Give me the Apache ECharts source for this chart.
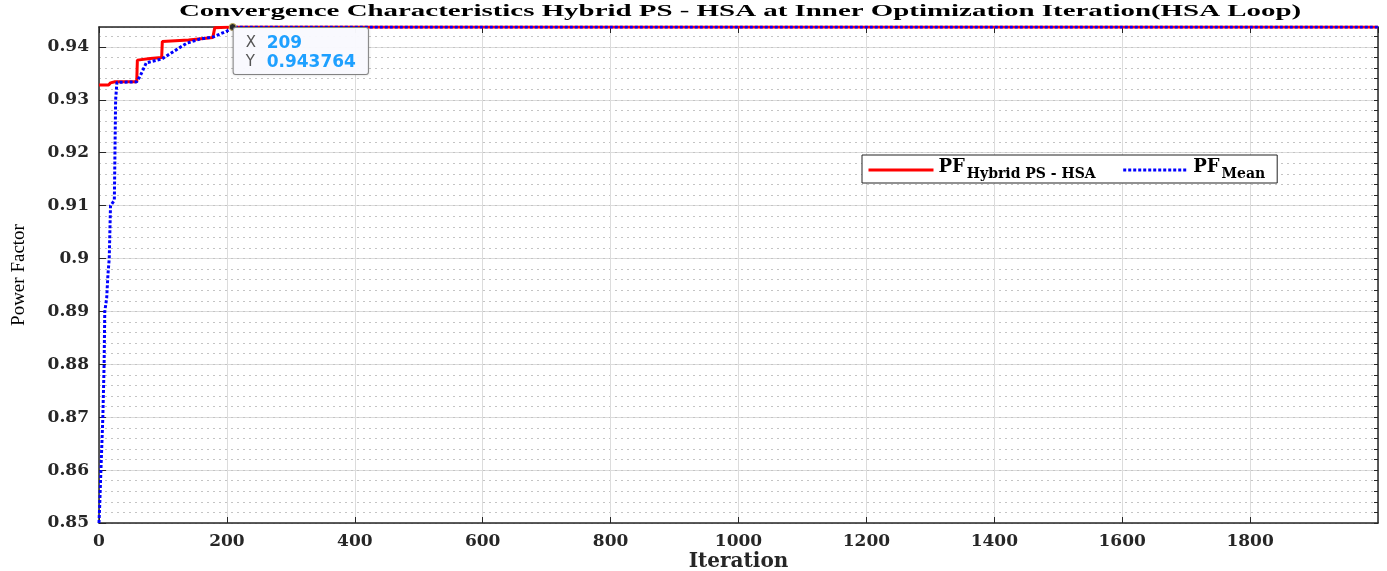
<!DOCTYPE html>
<html><head><meta charset="utf-8">
<script src="https://cdn.jsdelivr.net/npm/echarts@6/dist/echarts.min.js"></script>
<style>html,body{margin:0;padding:0;background:#fff}#c{width:1387px;height:571px}</style>
</head><body><div id="c"></div>
<script>
const titleText = 'Convergence Characteristics Hybrid PS - HSA at Inner Optimization Iteration(HSA Loop)';
const xAxisName = 'Iteration';
const yAxisName = 'Power Factor';
const seriesNames = ['PF Hybrid PS - HSA', 'PF Mean'];
const legendMain = ['PF', 'PF'];
const legendSub = ['Hybrid PS - HSA', 'Mean'];
const bestIter = [0, 15, 18, 25, 59, 60, 80, 98, 99, 140, 178, 181, 209, 2000];
const bestPF = [0.9328, 0.9328, 0.9332, 0.9334, 0.9334, 0.9375, 0.9378, 0.9380, 0.9410, 0.9413, 0.9418, 0.9436, 0.943764, 0.943764];
const meanIter = [0, 1, 3, 6, 8, 9, 12, 14, 16, 18, 24, 26, 28, 59, 64, 74, 98, 111, 137, 158, 179, 200, 212, 2000];
const meanPF = [0.85, 0.853, 0.86, 0.87, 0.88, 0.89, 0.8925, 0.897, 0.90, 0.91, 0.911, 0.93, 0.9333, 0.9334, 0.9344, 0.9370, 0.9377, 0.9387, 0.9407, 0.9415, 0.9419, 0.9430, 0.943764, 0.943764];
const tipIter = 209, tipPF = 0.943764;
const xMin = 0, xMax = 2000, xStep = 200;
const yMin = 0.85, yMax = 0.943764, yStep = 0.01, yMinorStep = 0.002;

const chart = echarts.init(document.getElementById('c'), null, {renderer: 'canvas'});
const serif = 'DejaVu Serif';
const tickFont = {fontFamily: serif, fontWeight: 'bold', fontSize: 17, color: '#262626'};
const grid = {left: 99, right: 9, top: 27, bottom: 48, outerBoundsMode: 'none', containLabel: false};
const pairs = (xs, ys) => xs.map((x, i) => [x, ys[i]]);

chart.setOption({
  animation: false,
  backgroundColor: '#fff',
  grid: grid,
  graphic: [{
    type: 'text', x: 740, y: 12, scaleX: 1.70, z: 10,
    style: {text: titleText, font: 'bold 17px "Liberation Serif"', align: 'center', verticalAlign: 'middle', fill: '#000'}
  }],
  legend: {
    left: 862, top: 155, orient: 'horizontal',
    backgroundColor: '#fff', borderColor: '#222', borderWidth: 1, borderRadius: 0,
    padding: [3, 12, 1, 5], itemWidth: 65, itemHeight: 14, itemGap: 26,
    itemStyle: {opacity: 0},
    lineStyle: {width: 3},
    data: seriesNames,
    formatter: function (name) {
      const i = seriesNames.indexOf(name);
      return '{pf|' + legendMain[i] + '}{sub|' + legendSub[i] + '}';
    },
    textStyle: {
      rich: {
        pf: {fontFamily: serif, fontWeight: 'bold', fontSize: 18, color: '#000', lineHeight: 17, padding: [0, 0, 6, 0]},
        sub: {fontFamily: serif, fontWeight: 'bold', fontSize: 14, color: '#000', lineHeight: 14, padding: [9, 0, 0, 2]}
      }
    }
  },
  xAxis: [{
    type: 'value', min: xMin, max: xMax, interval: xStep, position: 'bottom',
    name: xAxisName, nameLocation: 'middle', nameGap: 29, nameMoveOverlap: false,
    nameTextStyle: {fontFamily: serif, fontWeight: 'bold', fontSize: 20, color: '#262626'},
    axisLine: {show: true, lineStyle: {color: '#262626', width: 1.5}},
    axisTick: {show: true, inside: true, length: 6, lineStyle: {color: '#262626'}},
    axisLabel: Object.assign({showMaxLabel: false, margin: 10, formatter: v => String(v)}, tickFont),
    splitLine: {show: true, lineStyle: {color: '#dcdcdc', width: 1}}
  }, {
    type: 'value', min: xMin, max: xMax, interval: xStep, position: 'top',
    axisLine: {show: true, onZero: false, lineStyle: {color: '#262626', width: 1.5}},
    axisTick: {show: true, inside: true, length: 6, lineStyle: {color: '#262626'}},
    axisLabel: {show: false}, splitLine: {show: false}
  }],
  yAxis: [{
    type: 'value', min: yMin, max: yMax, interval: yStep, position: 'left',
    name: yAxisName, nameLocation: 'middle', nameGap: 70,
    nameTextStyle: {fontFamily: 'Liberation Serif', fontWeight: 'normal', fontSize: 19, color: '#000'},
    axisLine: {show: true, onZero: false, lineStyle: {color: '#262626', width: 1.5}},
    axisTick: {show: true, inside: true, length: 7, lineStyle: {color: '#262626'}},
    axisLabel: Object.assign({showMaxLabel: false, margin: 10, formatter: v => +v.toFixed(2) + ''}, tickFont),
    splitLine: {show: true, lineStyle: {color: '#dcdcdc', width: 1}}
  }, {
    type: 'value', min: yMin, max: yMax, interval: yMinorStep, position: 'right',
    axisLine: {show: true, onZero: false, lineStyle: {color: '#262626', width: 1.5}},
    axisTick: {show: true, inside: true, length: 4, lineStyle: {color: '#262626'}},
    axisLabel: {show: false},
    splitLine: {show: true, lineStyle: {color: '#c4c4c4', width: 1, type: [2, 4]}}
  }],
  series: [{
    name: seriesNames[0], type: 'line', xAxisIndex: 0, yAxisIndex: 0,
    data: pairs(bestIter, bestPF), symbol: 'none', showSymbol: false,
    lineStyle: {color: '#ff0000', width: 3}, itemStyle: {color: '#ff0000'}, z: 3,
    markPoint: {
      symbol: 'circle', symbolSize: 7, z: 20,
      itemStyle: {color: '#2b2b2b', borderColor: '#c9b45a', borderWidth: 1},
      data: [{coord: [tipIter, tipPF], value: tipPF}],
      label: {
        show: true, position: [5, 5],
        formatter: () => '{k|X}{v|' + tipIter + '}\n{k|Y}{v|' + tipPF + '}',
        backgroundColor: 'rgba(250,250,255,0.97)', borderColor: '#8a8a8a', borderWidth: 1, borderRadius: 2,
        padding: [6, 12, 2, 12],
        shadowColor: 'rgba(0,0,0,0.15)', shadowBlur: 3,
        rich: {
          k: {fontFamily: 'DejaVu Sans', fontSize: 15, color: '#555', lineHeight: 19, width: 21},
          v: {fontFamily: 'DejaVu Sans', fontWeight: 'bold', fontSize: 17, color: '#1ea0ff', lineHeight: 19}
        }
      }
    }
  }, {
    name: seriesNames[1], type: 'line', xAxisIndex: 0, yAxisIndex: 0,
    data: pairs(meanIter, meanPF), symbol: 'none', showSymbol: false,
    lineStyle: {color: '#0000ff', width: 3, type: [3, 2]}, itemStyle: {color: '#0000ff'}, z: 4
  }]
});
</script></body></html>
